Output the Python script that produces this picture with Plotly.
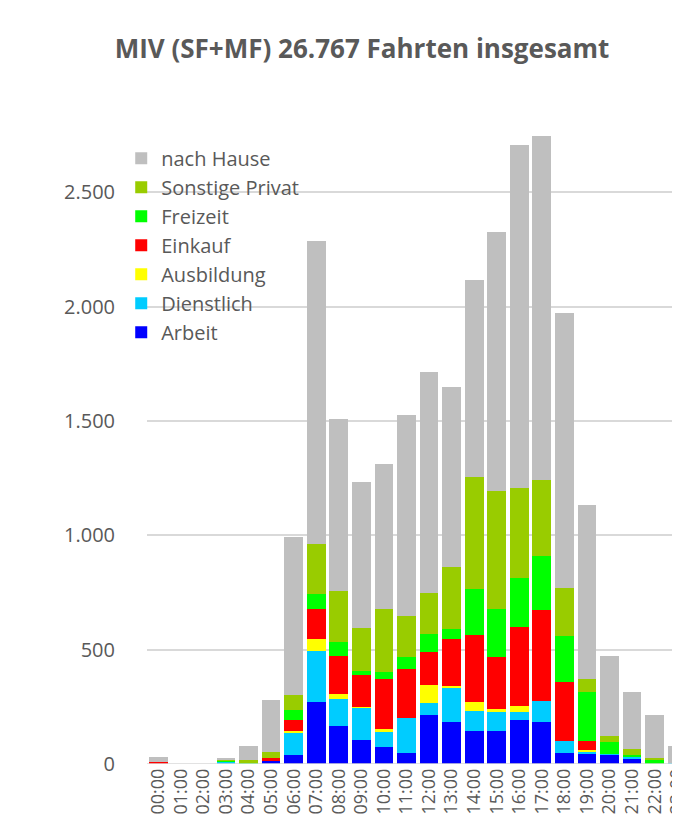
import plotly.graph_objects as go

hours = ["00:00", "01:00", "02:00", "03:00", "04:00", "05:00", "06:00", "07:00",
         "08:00", "09:00", "10:00", "11:00", "12:00", "13:00", "14:00", "15:00",
         "16:00", "17:00", "18:00", "19:00", "20:00", "21:00", "22:00", "23:00"]

arbeit = [0, 0, 0, 0, 0, 13, 39, 271, 165, 106, 74, 48, 213, 185, 146, 144, 192, 185, 48, 47, 42, 20, 0, 0]
dienstlich = [0, 0, 0, 12, 0, 0, 97, 223, 119, 142, 67, 153, 54, 146, 86, 85, 37, 91, 53, 8, 3, 14, 0, 5]
ausbildung = [0, 0, 0, 0, 0, 0, 10, 53, 22, 3, 14, 0, 77, 10, 41, 10, 25, 0, 0, 8, 0, 0, 0, 0]
einkauf = [8, 0, 0, 0, 0, 14, 45, 132, 168, 139, 217, 216, 146, 204, 291, 229, 344, 399, 259, 39, 0, 0, 0, 0]
freizeit = [0, 0, 0, 3, 4, 0, 47, 66, 60, 18, 29, 50, 80, 46, 202, 209, 217, 235, 201, 214, 50, 5, 19, 0]
sonstige = [0, 0, 0, 3, 12, 25, 65, 217, 224, 189, 277, 182, 179, 271, 491, 517, 394, 334, 210, 56, 29, 28, 6, 0]
nach_hause = [21, 0, 0, 8, 61, 228, 692, 1326, 751, 638, 634, 876, 967, 788, 862, 1133, 1500, 1505, 1203, 760, 347, 247, 191, 75]

series = [
    ("Arbeit", arbeit, "#0000ff"),
    ("Dienstlich", dienstlich, "#00ccff"),
    ("Ausbildung", ausbildung, "#ffff00"),
    ("Einkauf", einkauf, "#ff0000"),
    ("Freizeit", freizeit, "#00ff00"),
    ("Sonstige Privat", sonstige, "#99cc00"),
    ("nach Hause", nach_hause, "#bfbfbf"),
]

FONT = "Open Sans"
GREY_TXT = "#595959"

fig = go.Figure()
for name, vals, col in series:
    fig.add_trace(go.Bar(x=hours, y=vals, name=name, marker_color=col,
                         marker_line_width=0))

fig.update_layout(
    width=680, height=827,
    barmode="stack", bargap=0.17,
    plot_bgcolor="white", paper_bgcolor="white",
    margin=dict(l=139, r=0, t=93, b=71),
    font=dict(family=FONT, color=GREY_TXT),
    separators=",.",
    title=dict(text="<b>MIV (SF+MF) 26.767 Fahrten insgesamt</b>",
               x=354 / 680, xanchor="center", y=1 - 41 / 827, yanchor="middle",
               font=dict(size=26, color=GREY_TXT, family=FONT)),
    legend=dict(x=-0.048, y=0.943, xanchor="left", yanchor="top",
                traceorder="reversed", bgcolor="rgba(0,0,0,0)",
                font=dict(size=20, color=GREY_TXT), itemsizing="constant",
                tracegroupgap=0),
    showlegend=True,
)

fig.update_xaxes(range=[-0.5, 23.3], tickangle=-90, showgrid=False,
                 tickfont=dict(size=18, color=GREY_TXT), ticks="",
                 showline=False, zeroline=False)
fig.update_yaxes(range=[0, 2900], tickvals=[0, 500, 1000, 1500, 2000, 2500],
                 tickformat=",d", showgrid=True, gridcolor="#d9d9d9", gridwidth=1.5,
                 zeroline=False, showline=False, ticks="",
                 tickfont=dict(size=20, color=GREY_TXT), ticklabelstandoff=31)

# baseline at 0
fig.add_hline(y=0, line_color="#d9d9d9", line_width=1.5)

fig.write_html("out.html")
